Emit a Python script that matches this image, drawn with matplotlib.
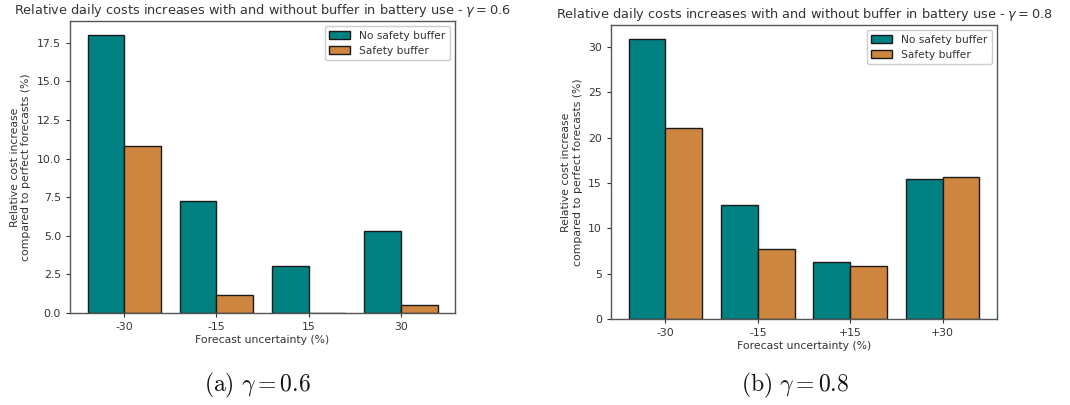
import numpy as np
import matplotlib
matplotlib.use("Agg")
import matplotlib.pyplot as plt

# Forecast-uncertainty scenarios and relative cost increases (%)
labels_a = ["-30", "-15", "15", "30"]
no_buffer_a = [18.0, 7.25, 3.05, 5.3]
buffer_a = [10.8, 1.15, 0.03, 0.55]

labels_b = ["-30", "-15", "+15", "+30"]
no_buffer_b = [30.9, 12.6, 6.3, 15.45]
buffer_b = [21.05, 7.7, 5.85, 15.7]

gammas = ["0.6", "0.8"]
captions = ["(a)", "(b)"]

TEAL = "#008080"
PERU = "#CD853F"
TXT = "#333333"

plt.rcParams.update({
    "font.family": "DejaVu Sans",
    "text.color": TXT,
    "axes.labelcolor": TXT,
    "xtick.color": TXT,
    "ytick.color": TXT,
    "axes.edgecolor": "#555555",
})

fig = plt.figure(figsize=(10.7, 4.05), dpi=100)
W, H = 1070, 405
# axes boxes in pixels: left, top, right, bottom
boxes = [(70, 21, 455, 313), (611, 25, 997, 319)]
caption_x = [257, 795]

datasets = [(labels_a, no_buffer_a, buffer_a), (labels_b, no_buffer_b, buffer_b)]

for box, (labels, nb, sb), g, cap, cx in zip(boxes, datasets, gammas, captions, caption_x):
    l, t, r, b = box
    ax = fig.add_axes([l / W, 1 - b / H, (r - l) / W, (b - t) / H])
    x = np.arange(len(labels))
    w = 0.4
    ax.bar(x - w / 2, nb, w, color=TEAL, edgecolor="#1a1a1a", linewidth=1.0,
           label="No safety buffer")
    ax.bar(x + w / 2, sb, w, color=PERU, edgecolor="#1a1a1a", linewidth=1.0,
           label="Safety buffer")
    ax.set_xticks(x)
    ax.set_xticklabels(labels)
    ax.tick_params(labelsize=7.8, length=3, width=0.8)
    ax.set_xlabel("Forecast uncertainty (%)", fontsize=7.8, labelpad=2)
    ax.set_ylabel("Relative cost increase\ncompared to perfect forecasts (%)",
                  fontsize=7.8, labelpad=4)
    ax.set_title("Relative daily costs increases with and without buffer in battery use - "
                 r"$\gamma = %s$" % g, fontsize=9.3, pad=5)
    ax.legend(loc="upper right", fontsize=7.7, frameon=True, framealpha=1,
              edgecolor="#cccccc", fancybox=True)
    for s in ax.spines.values():
        s.set_linewidth(1.0)
    fig.text(cx / W, 1 - 385 / H, r"$\mathrm{%s}\ \gamma = %s$" % (cap, g),
             ha="center", va="center", fontsize=17, color="#111111",
             math_fontfamily="cm")

fig.savefig("out.png", dpi=100, facecolor="white")
